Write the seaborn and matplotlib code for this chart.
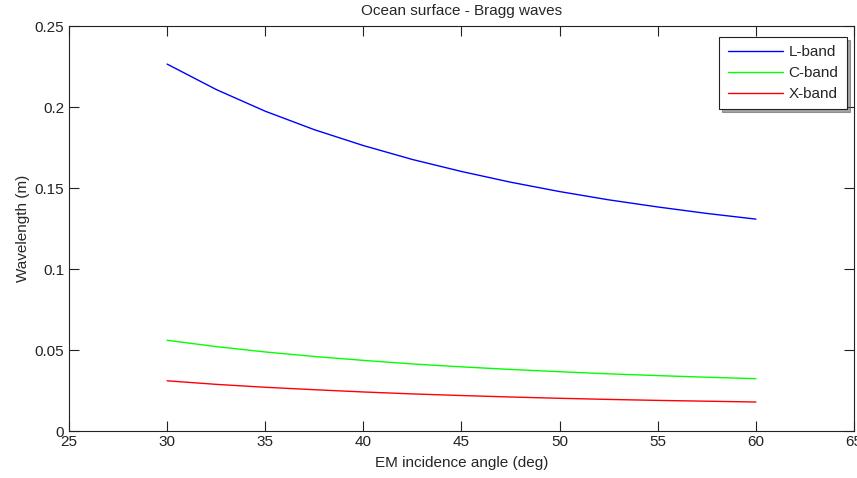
import matplotlib
matplotlib.use("Agg")
import matplotlib.pyplot as plt
import seaborn as sns
import pandas as pd

# incidence angles (deg) and Bragg wavelengths (m)
angle = [30, 32.5, 35, 37.5, 40, 42.5, 45, 47.5, 50, 52.5, 55, 57.5, 60]
l_band = [0.2265, 0.2108, 0.1974, 0.1860, 0.1762, 0.1676, 0.1602,
          0.1536, 0.1478, 0.1427, 0.1383, 0.1343, 0.1308]
c_band = [0.0560, 0.0521, 0.0488, 0.0460, 0.0436, 0.0414, 0.0396,
          0.0380, 0.0366, 0.0353, 0.0342, 0.0332, 0.0323]
x_band = [0.0310, 0.0288, 0.0270, 0.0255, 0.0241, 0.0229, 0.0219,
          0.0210, 0.0202, 0.0195, 0.0189, 0.0184, 0.0179]
bands = ["L-band", "C-band", "X-band"]
colors = ["#0000ff", "#00ff00", "#ff0000"]

sns.set_style("white")
plt.rcParams["font.family"] = ["Liberation Sans", "DejaVu Sans"]
plt.rcParams["xtick.direction"] = "in"
plt.rcParams["ytick.direction"] = "in"

fig = plt.figure(figsize=(8.57, 4.78), dpi=100)
ax = fig.add_axes([0.0805, 0.0983, 0.916, 0.8473])

for name, vals, col in zip(bands, [l_band, c_band, x_band], colors):
    df = pd.DataFrame({"angle": angle, "wl": vals})
    sns.lineplot(data=df, x="angle", y="wl", color=col, linewidth=1.0, label=name, ax=ax)

ax.set_xlim(25, 65)
ax.set_ylim(0, 0.25)
ax.set_xticks([25, 30, 35, 40, 45, 50, 55, 60, 65])
ax.set_xticklabels(["25", "30", "35", "40", "45", "50", "55", "60", "65"])
ax.set_yticks([0, 0.05, 0.1, 0.15, 0.2, 0.25])
ax.set_yticklabels(["0", "0.05", "0.1", "0.15", "0.2", "0.25"])
ax.tick_params(axis="both", labelsize=11, length=7, width=0.8, colors="#222222",
               top=True, right=True, bottom=True, left=True)
ax.tick_params(axis="x", pad=3)
for s in ax.spines.values():
    s.set_color("#222222")
    s.set_linewidth(0.8)

ax.set_xlabel("EM incidence angle (deg)", fontsize=11, labelpad=5)
ax.set_ylabel("Wavelength (m)", fontsize=11, labelpad=3)
ax.set_title("Ocean surface - Bragg waves", fontsize=11, pad=8)

leg = ax.legend(loc="upper right", bbox_to_anchor=(0.991, 0.973), fontsize=11,
                frameon=True, fancybox=False, shadow=True, framealpha=1,
                edgecolor="#222222", handlelength=3.6, handletextpad=0.4,
                borderaxespad=0, labelspacing=0.45, borderpad=0.55)
leg.get_frame().set_linewidth(0.8)

fig.savefig("out.png", dpi=100)
